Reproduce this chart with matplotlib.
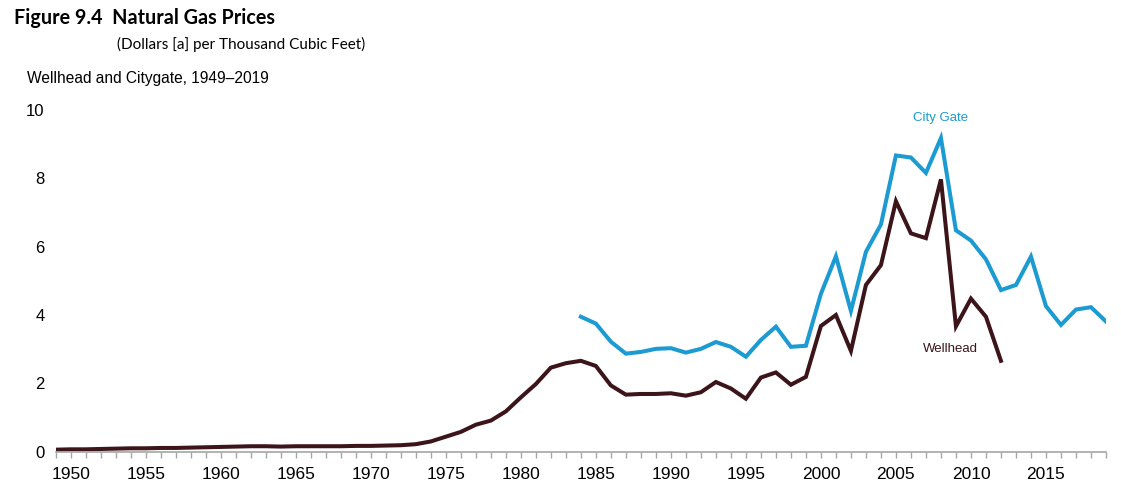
import matplotlib
matplotlib.use("Agg")
import matplotlib.pyplot as plt
from matplotlib.ticker import MultipleLocator

# nominal prices, dollars per thousand cubic feet
wellhead_years = list(range(1949, 2013))
wellhead = [0.06, 0.07, 0.07, 0.08, 0.09, 0.10, 0.10, 0.11, 0.11, 0.12,
            0.13, 0.14, 0.15, 0.16, 0.16, 0.15, 0.16, 0.16, 0.16, 0.16,
            0.17, 0.17, 0.18, 0.19, 0.22, 0.30, 0.44, 0.58, 0.79, 0.91,
            1.18, 1.59, 1.98, 2.46, 2.59, 2.66, 2.51, 1.94, 1.67, 1.69,
            1.69, 1.71, 1.64, 1.74, 2.04, 1.85, 1.55, 2.17, 2.32, 1.96,
            2.19, 3.68, 4.00, 2.95, 4.88, 5.46, 7.33, 6.39, 6.25, 7.97,
            3.67, 4.48, 3.95, 2.66]

citygate_years = list(range(1984, 2020))
citygate = [3.95, 3.75, 3.22, 2.87, 2.92, 3.01, 3.03, 2.90, 3.01, 3.21,
            3.07, 2.78, 3.27, 3.66, 3.07, 3.10, 4.62, 5.72, 4.12, 5.85,
            6.65, 8.67, 8.61, 8.16, 9.18, 6.48, 6.18, 5.63, 4.73, 4.88,
            5.71, 4.26, 3.71, 4.16, 4.23, 3.81]

year_labels = list(range(1950, 2020, 5))
y_ticks = [0, 2, 4, 6, 8, 10]

blue = "#1c9ad2"
maroon = "#3b1519"

plt.rcParams["font.family"] = ["Liberation Sans", "DejaVu Sans"]

fig = plt.figure(figsize=(11.21, 4.96), dpi=100)
ax = fig.add_axes([0.0497, 0.0893, 0.9369, 0.6889])

ax.plot(wellhead_years, wellhead, color=maroon, lw=2.9, solid_joinstyle="miter")
ax.plot(citygate_years, citygate, color=blue, lw=2.9, solid_joinstyle="miter")

ax.set_xlim(1949, 2019)
ax.set_ylim(0, 10)

for side in ["top", "right", "left"]:
    ax.spines[side].set_visible(False)
ax.spines["bottom"].set_color("#a6a6a6")
ax.spines["bottom"].set_linewidth(1.2)

ax.set_xticks(year_labels)
ax.xaxis.set_minor_locator(MultipleLocator(1))
ax.set_yticks(y_ticks)
ax.tick_params(axis="x", which="both", length=4, width=1, color="#a6a6a6",
               labelsize=12.5, pad=7)
ax.tick_params(axis="y", length=0, labelsize=12, pad=8)

ax.text(2008.0, 9.77, "City Gate", color=blue, fontsize=9.5,
        ha="center", va="center")
ax.text(2008.6, 3.0, "Wellhead", color=maroon, fontsize=9.5,
        ha="center", va="center")

fig.text(14 / 1121, 1 - 18 / 496, "Figure 9.4  Natural Gas Prices",
         fontsize=14.2, fontweight="bold", family="Lato", va="center")
fig.text(117 / 1121, 1 - 44 / 496, "(Dollars [a] per Thousand Cubic Feet)",
         fontsize=11, family="Lato", va="center")
fig.text(27 / 1121, 1 - 78 / 496, "Wellhead and Citygate, 1949\u20132019",
         fontsize=11.2, va="center")

fig.savefig("out.png", dpi=100)
